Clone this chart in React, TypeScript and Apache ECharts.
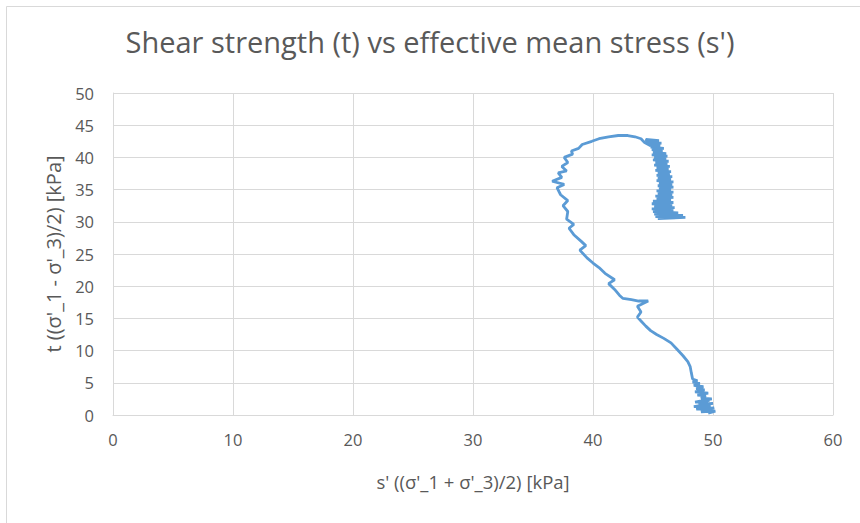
import React, { useEffect, useRef } from "react";
import * as echarts from "echarts";

// Stress path: effective mean stress s' (kPa) and shear stress t (kPa)
const sPrime: number[] = [
  // initial scatter near the start of shearing
  49.6, 50.2, 49.0, 50.1, 48.6, 49.8, 48.4, 50.0, 48.8, 49.7, 48.5, 49.9, 49.0, 49.4, 48.7, 49.6,
  48.5, 49.3, 48.6, 49.2, 48.4, 48.9, 48.3, 48.7, 48.3,
  // rising branch
  48.2, 48.1, 47.9, 47.5, 47.0, 46.5, 45.9, 45.3, 44.8, 44.4, 44.0, 43.7, 44.0, 43.7, 44.6, 43.8,
  43.2, 42.5, 42.2, 41.8, 41.3, 41.8, 41.0, 40.5, 40.0, 39.5, 38.9, 39.4, 39.0, 38.4, 38.0, 38.4,
  37.8, 37.9, 37.5, 37.9, 37.3, 37.0, 37.6, 36.6, 37.4, 37.1, 37.8, 37.4, 37.9, 37.6, 38.3, 38.2,
  38.8, 39.1, 39.9, 40.5, 41.3, 42.1, 42.9, 43.5, 44.0, 44.3, 44.8,
  // post-peak band
  44.4, 45.5, 44.6, 45.7, 44.7, 45.6, 44.8, 45.9, 44.9, 45.8, 45.0, 46.1, 44.9, 46.2, 45.1, 46.1,
  45.0, 46.3, 45.2, 46.2, 45.1, 46.4, 45.3, 46.3, 45.2, 46.5, 45.4, 46.4, 45.3, 46.6, 45.4, 46.5,
  45.3, 46.7, 45.5, 46.6, 45.4, 46.7, 45.5, 46.5, 45.3, 46.7, 45.4, 46.6, 45.2, 46.7, 45.3, 46.5,
  45.0, 46.7, 44.9, 46.6, 45.1, 46.8, 44.9, 46.7, 45.0, 47.1, 45.1, 47.5, 45.2, 47.7, 45.4, 46.9,
];
const tShear: number[] = [
  0.3, 0.6, 0.5, 1.1, 0.9, 1.4, 1.3, 1.8, 1.7, 2.3, 2.0, 2.5, 2.6, 3.0, 3.1, 3.4,
  3.6, 3.9, 4.1, 4.4, 4.6, 4.9, 5.1, 5.3, 5.6,
  6.5, 7.5, 8.3, 9.2, 10.2, 11.2, 11.9, 12.5, 13.1, 13.8, 14.6, 15.2, 16.0, 16.9, 17.7, 17.7,
  17.9, 18.1, 18.6, 19.5, 20.4, 21.0, 22.0, 22.9, 23.6, 24.4, 25.6, 26.3, 27.0, 28.0, 29.0, 29.6,
  30.4, 31.6, 32.5, 33.3, 34.2, 35.3, 35.8, 36.3, 36.9, 37.6, 37.9, 38.6, 39.2, 40.0, 40.5, 41.0,
  41.4, 42.0, 42.5, 42.9, 43.2, 43.4, 43.4, 43.2, 42.9, 42.3, 41.8,
  42.8, 42.6, 42.4, 42.2, 42.0, 41.8, 41.6, 41.4, 41.2, 41.0, 40.8, 40.6, 40.4, 40.2, 40.0, 39.8,
  39.6, 39.4, 39.2, 39.0, 38.8, 38.6, 38.4, 38.2, 38.0, 37.8, 37.6, 37.4, 37.2, 37.0, 36.8, 36.6,
  36.4, 36.2, 36.0, 35.8, 35.6, 35.4, 35.2, 35.0, 34.8, 34.6, 34.4, 34.2, 34.0, 33.8, 33.6, 33.4,
  33.2, 33.0, 32.8, 32.6, 32.4, 32.2, 32.0, 31.8, 31.6, 31.4, 31.2, 31.0, 30.8, 30.7, 30.5, 30.6,
];

const titleText = "Shear strength (t) vs effective mean stress (s')";
const xAxisTitle = "s' ((σ'_1 + σ'_3)/2) [kPa]";
const yAxisTitle = "t ((σ'_1 - σ'_3)/2) [kPa]";

const FONT = "'Open Sans', 'Noto Sans', sans-serif";
const TEXT_GREY = "#595959";
const GRID_GREY = "#D9D9D9";

export default function App() {
  const ref = useRef<HTMLDivElement | null>(null);

  useEffect(() => {
    if (!ref.current) return;
    const chart = echarts.init(ref.current, null, { renderer: "svg" });
    const points = sPrime.map((s, i) => [s, tShear[i]]);

    chart.setOption({
      animation: false,
      backgroundColor: "#ffffff",
      title: {
        text: titleText,
        left: "center",
        top: 22,
        textStyle: {
          fontFamily: FONT,
          fontSize: 29,
          fontWeight: "normal",
          color: TEXT_GREY,
        },
      },
      graphic: [
        {
          type: "rect",
          left: 4,
          top: 4,
          shape: { x: 0, y: 0, width: 1000, height: 1000 },
          style: { fill: "none", stroke: GRID_GREY, lineWidth: 1 },
          silent: true,
        },
      ],
      grid: { left: 113, right: 27, top: 93, bottom: 108 },
      xAxis: {
        type: "value",
        min: 0,
        max: 60,
        interval: 10,
        name: xAxisTitle,
        nameLocation: "middle",
        nameGap: 57,
        nameTextStyle: { fontFamily: FONT, fontSize: 18.5, color: TEXT_GREY },
        axisLine: { show: true, lineStyle: { color: GRID_GREY, width: 1 } },
        axisTick: { show: false },
        axisLabel: { fontFamily: FONT, fontSize: 16.5, color: TEXT_GREY, margin: 16 },
        splitLine: { show: true, lineStyle: { color: GRID_GREY, width: 1 } },
      },
      yAxis: {
        type: "value",
        min: 0,
        max: 50,
        interval: 5,
        name: yAxisTitle,
        nameLocation: "middle",
        nameGap: 50,
        nameRotate: 90,
        nameTextStyle: { fontFamily: FONT, fontSize: 20, color: TEXT_GREY },
        axisLine: { show: true, lineStyle: { color: GRID_GREY, width: 1 } },
        axisTick: { show: false },
        axisLabel: { fontFamily: FONT, fontSize: 16.5, color: TEXT_GREY, margin: 19 },
        splitLine: { show: true, lineStyle: { color: GRID_GREY, width: 1 } },
      },
      series: [
        {
          type: "line",
          data: points,
          showSymbol: false,
          symbol: "none",
          lineStyle: { color: "#5B9BD5", width: 2.8 },
          itemStyle: { color: "#5B9BD5" },
        },
      ],
    });

    return () => chart.dispose();
  }, []);

  return (
    <div
      ref={ref}
      style={{ position: "fixed", left: 0, top: 0, width: 860, height: 523 }}
    />
  );
}
